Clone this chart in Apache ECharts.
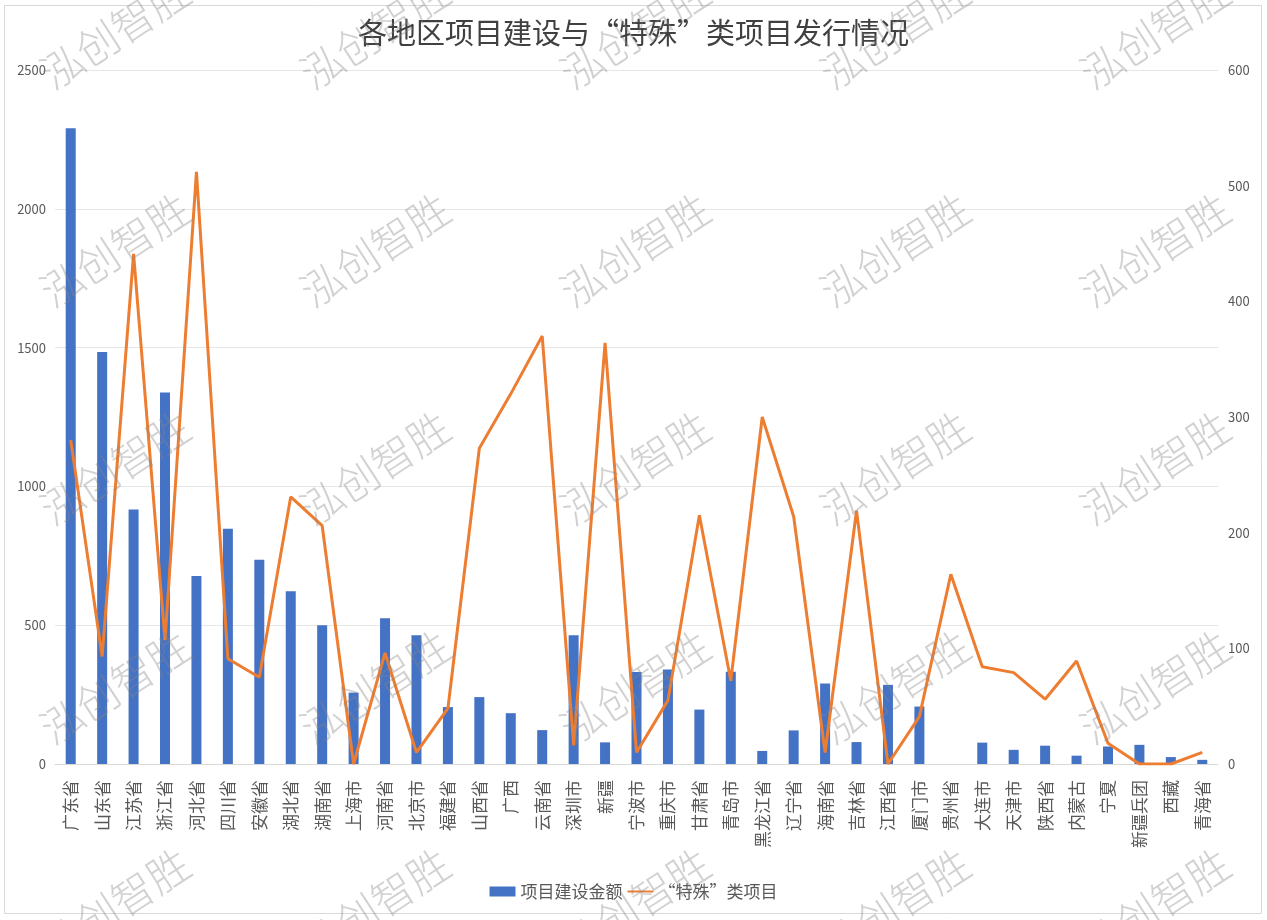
<!DOCTYPE html>
<html>
<head>
<meta charset="utf-8">
<title>各地区项目建设与“特殊”类项目发行情况</title>
<script src="https://cdn.jsdelivr.net/npm/echarts@6/dist/echarts.min.js"></script>
<style>
  html, body { margin: 0; padding: 0; background: #fff; }
  #chart { width: 1267px; height: 920px; }
</style>
</head>
<body>
<div id="chart"></div>
<script>
// 地区
var regions = ['广东省', '山东省', '江苏省', '浙江省', '河北省', '四川省', '安徽省', '湖北省', '湖南省', '上海市',
    '河南省', '北京市', '福建省', '山西省', '广西', '云南省', '深圳市', '新疆', '宁波市', '重庆市',
    '甘肃省', '青岛市', '黑龙江省', '辽宁省', '海南省', '吉林省', '江西省', '厦门市', '贵州省', '大连市',
    '天津市', '陕西省', '内蒙古', '宁夏', '新疆兵团', '西藏', '青海省'];

// 项目建设金额（左轴）
var buildAmount = [2290, 1484, 917, 1338, 677, 847, 736, 622, 500, 257,
    525, 464, 205, 241, 183, 122, 464, 78, 331, 340,
    196, 332, 47, 121, 290, 79, 285, 207, 0, 77,
    51, 66, 30, 63, 69, 25, 15];

// “特殊”类项目（右轴）
var specialCount = [280, 93, 441, 107, 512, 91, 75, 231, 206, 0,
    96, 10, 48, 273, 320, 370, 16, 364, 10, 55,
    215, 72, 300, 214, 10, 219, 0, 41, 164, 84,
    79, 56, 89, 18, 0, 0, 10];

var leftTicks = { min: 0, max: 2500, step: 500 };
var rightTicks = { min: 0, max: 600, step: 100 };

var seriesNames = ['项目建设金额', '“特殊”类项目'];
var watermarkText = '泓创智胜';

var chart = echarts.init(document.getElementById('chart'));

// 水印
var marks = [];
var cols = [115, 375, 635, 895, 1155];
var rows = [32, 250, 468, 687, 905];
rows.forEach(function (y) {
    cols.forEach(function (x) {
        marks.push({
            type: 'text',
            x: x,
            y: y,
            rotation: 33 * Math.PI / 180,
            z: 100,
            silent: true,
            style: {
                text: watermarkText,
                font: '300 42px "Noto Sans CJK SC"',
                fill: 'rgba(135,135,135,0.38)',
                align: 'center',
                verticalAlign: 'middle'
            }
        });
    });
});
// 外框
marks.push({
    type: 'rect',
    shape: { x: 4.5, y: 5.5, width: 1257, height: 908 },
    style: { fill: 'none', stroke: '#d9d9d9', lineWidth: 1 },
    silent: true,
    z: 0
});

var option = {
    backgroundColor: '#fff',
    textStyle: { fontFamily: '"Noto Sans CJK SC", sans-serif' },
    title: {
        text: '各地区项目建设与“特殊”类项目发行情况',
        left: 'center',
        top: 13,
        textStyle: {
            fontSize: 29,
            fontWeight: 'normal',
            color: '#404040',
            fontFamily: '"Noto Sans CJK SC", serif'
        }
    },
    legend: {
        data: [
            { name: seriesNames[0], icon: 'rect' },
            { name: seriesNames[1], itemStyle: { opacity: 0 } }
        ],
        bottom: 15,
        left: 'center',
        itemWidth: 26,
        itemHeight: 10,
        itemGap: 4,
        textStyle: { fontSize: 17, color: '#595959' }
    },
    grid: {
        left: 55,
        right: 49,
        top: 70,
        bottom: 156
    },
    xAxis: {
        type: 'category',
        data: regions,
        axisLine: { lineStyle: { color: '#d9d9d9' } },
        axisTick: { show: false },
        axisLabel: {
            interval: 0,
            rotate: 90,
            margin: 16,
            fontSize: 17,
            color: '#595959'
        }
    },
    yAxis: [{
        type: 'value',
        min: leftTicks.min,
        max: leftTicks.max,
        interval: leftTicks.step,
        axisLine: { show: false },
        axisTick: { show: false },
        axisLabel: {
            fontSize: 13,
            color: '#595959',
            margin: 9,
            formatter: function (v) { return String(v); }
        },
        splitLine: { lineStyle: { color: '#e6e6e6' } }
    }, {
        type: 'value',
        min: rightTicks.min,
        max: rightTicks.max,
        interval: rightTicks.step,
        axisLine: { show: false },
        axisTick: { show: false },
        axisLabel: {
            fontSize: 13,
            color: '#595959',
            margin: 10,
            formatter: function (v) { return String(v); }
        },
        splitLine: { show: false }
    }],
    series: [{
        name: seriesNames[0],
        type: 'bar',
        yAxisIndex: 0,
        barWidth: 10,
        itemStyle: { color: '#4472c4' },
        data: buildAmount
    }, {
        name: seriesNames[1],
        type: 'line',
        yAxisIndex: 1,
        symbol: 'none',
        lineStyle: { color: '#ed7d31', width: 3 },
        itemStyle: { color: '#ed7d31' },
        data: specialCount
    }],
    graphic: marks
};

chart.setOption(option);
</script>
</body>
</html>
